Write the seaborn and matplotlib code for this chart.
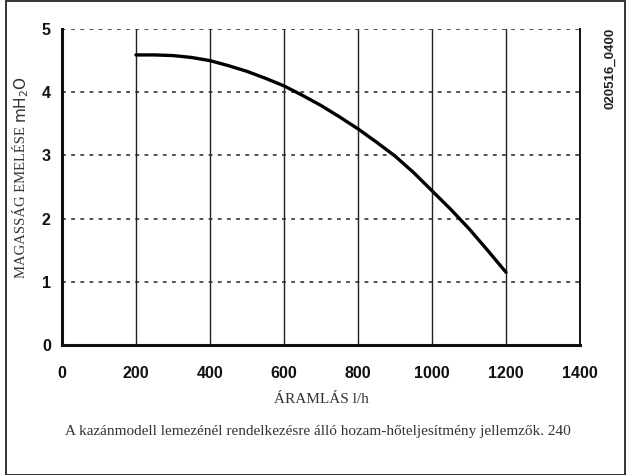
import numpy as np
import matplotlib.pyplot as plt
import seaborn as sns
import pandas as pd
from matplotlib.patches import Rectangle

# pump curve
flow = [200, 250, 300, 350, 400, 450, 500, 550, 600, 650, 700, 750, 800,
        850, 900, 950, 1000, 1050, 1100, 1150, 1200]
head = [4.59, 4.59, 4.58, 4.55, 4.50, 4.42, 4.33, 4.22, 4.10, 3.95, 3.79, 3.61, 3.42,
        3.21, 2.99, 2.73, 2.44, 2.15, 1.84, 1.50, 1.15]

x_ticks = [0, 200, 400, 600, 800, 1000, 1200, 1400]
y_ticks = [0, 1, 2, 3, 4, 5]

df = pd.DataFrame({"flow": flow, "head": head})

sns.set_style("white")
fig = plt.figure(figsize=(6.28, 4.75), dpi=100)
ax = fig.add_axes([0.0987, 0.2737, 0.8249, 0.6652])

# grid: solid vertical lines, dotted horizontal ones
for xv in x_ticks[1:-1]:
    ax.axvline(xv, color="#222222", lw=1.0, zorder=1)
for yv in y_ticks[1:]:
    ax.axhline(yv, color="#222222", lw=1.1, ls=(0, (2.5, 3.5)), zorder=1)

sns.lineplot(data=df, x="flow", y="head", color="black", lw=2.4, ax=ax, zorder=3)

ax.set_xlim(0, 1400)
ax.set_ylim(0, 5)
ax.set_xticks(x_ticks)
ax.set_yticks(y_ticks)
ax.set_xticklabels([str(v) for v in x_ticks], fontsize=11.5, fontweight="bold",
                   family="Liberation Sans")
ax.set_yticklabels([str(v) for v in y_ticks], fontsize=11.5, fontweight="bold",
                   family="Liberation Sans")
ax.tick_params(axis="x", direction="inout", length=6, width=1.5, pad=12, colors="#111111")
ax.tick_params(axis="y", direction="out", length=4, width=1.5, pad=4, colors="#111111")

ax.spines["top"].set_visible(False)
ax.spines["left"].set_linewidth(2.2)
ax.spines["bottom"].set_linewidth(2.2)
ax.spines["right"].set_linewidth(1.4)
for s in ["left", "bottom", "right"]:
    ax.spines[s].set_color("#111111")

ax.set_xlabel("ÁRAMLÁS l/h", family="Liberation Serif", fontsize=11, color="#333333",
              labelpad=9)
ax.set_ylabel("")

# y label: serif words, sans unit
fig.text(0.035, 0.574, "MAGASSÁG EMELÉSE", rotation=90, ha="center", va="center",
         family="Liberation Serif", fontsize=10.5, color="#333333")
fig.text(0.035, 0.79, "mH$_2$O", rotation=90, ha="center", va="center",
         family="DejaVu Sans", fontsize=11, color="#333333")

fig.text(0.506, 0.091, "A kazánmodell lemezénél rendelkezésre álló hozam-hőteljesítmény jellemzők. 240",
         ha="center", va="center", family="Liberation Serif", fontsize=11, color="#333333")
fig.text(0.972, 0.857, "020516_0400", rotation=90, ha="center", va="center",
         family="Liberation Sans", fontweight="bold", fontsize=9.5, color="#222222")

# frame round the whole picture
fig.patches.append(Rectangle((0.009, 0.0), 0.986, 0.997, transform=fig.transFigure,
                             fill=False, edgecolor="#333333", lw=1.4))

fig.savefig("out.png", dpi=100)
